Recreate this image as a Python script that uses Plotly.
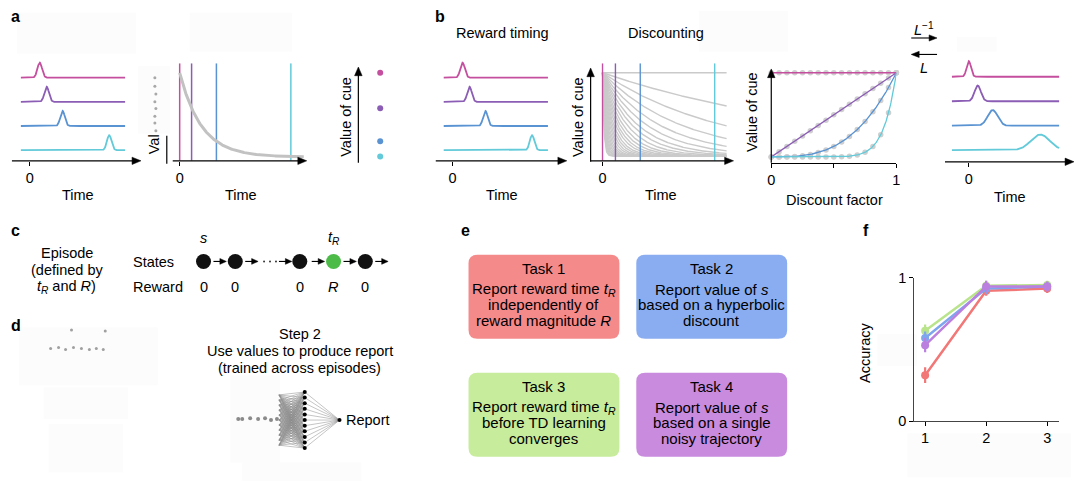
import numpy as np
import plotly.graph_objects as go

W, H = 1080, 489
FONT = 'Liberation Sans, Arial, Helvetica, sans-serif'
FS = 14.5   # main text size

# ---------------- data ----------------
cue_colors = ['#c54f9f', '#8c5db4', '#5a93d2', '#62cad9']   # magenta, purple, blue, cyan

# panels a/b: reward-timing traces (time of reward after the cue)
timing_peaks = [10, 17, 33, 80]
timing_width = 2.3
timing_span = [-9, 96]

# panel a: single exponential discount
a_cue_times = [0, 12, 37, 112]
a_decay_tau = 22
a_decay_span = [0, 125]

# panel b: family of exponential discounts (time constants, None = no discount)
b_cue_times = [1, 14, 39, 114]
b_taus = [None, 245, 123, 80, 58, 45, 36, 30, 25, 21, 18, 15.5, 13.5, 11.5, 10,
          8.6, 7.4, 6.3, 5.4, 4.6, 3.9, 3.3, 2.8, 2.4, 2.0, 1.7, 1.4]
b_decay_span = [1, 126]

# panel b: value of cue vs discount factor (exponent = reward delay)
discount_exponents = [0, 1, 3, 10]

# panel b: recovered reward timing after inverse Laplace transform
recovered_peaks = [0, 9, 24, 72]
recovered_widths = [2.2, 3.2, 5.0, 9.5]
recovered_span = [-17, 91]

# panel e: tasks
task_titles = ['Task 1', 'Task 2', 'Task 3', 'Task 4']
task_lines = [
    ['Report reward time <i>t</i><sub><i>R</i></sub>', 'independently of', 'reward magnitude <i>R</i>'],
    ['Report value of <i>s</i>', 'based on a hyperbolic', 'discount'],
    ['Report reward time <i>t</i><sub><i>R</i></sub>', 'before TD learning', 'converges'],
    ['Report value of <i>s</i>', 'based on a single', 'noisy trajectory'],
]
task_box_colors = ['#f58a8b', '#8aadf1', '#c7ec9c', '#c98bde']
task_line_colors = ['#f27777', '#7ea6ee', '#b9e48c', '#bb7fe0']

# panel f: accuracy
f_x = [1, 2, 3]
acc_task1 = [0.32, 0.91, 0.925]
acc_task2 = [0.58, 0.925, 0.94]
acc_task3 = [0.63, 0.945, 0.95]
acc_task4 = [0.53, 0.94, 0.94]
err_task1 = [0.055, 0.035, 0.03]
err_task2 = [0.045, 0.04, 0.03]
err_task3 = [0.045, 0.035, 0.03]
err_task4 = [0.05, 0.04, 0.035]

# panel c
state_labels_reward = ['0', '0', '0', '<i>R</i>', '0']
state_colors = ['#111111', '#111111', '#111111', '#4dbb48', '#111111']

# panel d network
n_hidden = 11

# ---------------- helpers ----------------
fig = go.Figure()
layout = dict(width=W, height=H, margin=dict(l=0, r=0, t=0, b=0),
              paper_bgcolor='white', plot_bgcolor='rgba(0,0,0,0)', showlegend=False,
              font=dict(family=FONT, size=FS, color='black'))


def ax_name(i, kind):
    return kind + ('axis' if i == 1 else f'axis{i}')


def ref(i, kind):
    return kind if i == 1 else f'{kind}{i}'


def add_axis(i, x0, x1, y0, y1, xr, yr, xa=None, ya=None):
    xd = dict(domain=[x0 / W, x1 / W], range=xr, visible=False, fixedrange=True,
              showgrid=False, zeroline=False, anchor=ref(i, 'y'))
    yd = dict(domain=[1 - y1 / H, 1 - y0 / H], range=yr, visible=False, fixedrange=True,
              showgrid=False, zeroline=False, anchor=ref(i, 'x'))
    if xa:
        xd.update(xa)
    if ya:
        yd.update(ya)
    layout[ax_name(i, 'x')] = xd
    layout[ax_name(i, 'y')] = yd


tick_x = dict(visible=True, showline=False, ticks='outside', ticklen=4, tickwidth=1,
              tickcolor='black', tickfont=dict(size=FS, family=FONT, color='black'))

# overlay axis in pixel space for schematic elements
add_axis(1, 0, W, 0, H, [0, W], [H, 0])
# a1 reward timing
add_axis(2, 8, 138, 45, 158, [-18, 112], [-0.44, 4.08], xa=dict(tick_x, tickvals=[0], ticktext=['0']))
# a2 discount
add_axis(3, 164, 305, 57, 158, [-13, 128], [-0.046, 1.115], xa=dict(tick_x, tickvals=[0], ticktext=['0']))
# a3 value dots
add_axis(4, 350, 400, 57, 158, [0, 1], [-0.046, 1.115])
# b1 reward timing
add_axis(5, 435, 567, 45, 158, [-17, 115], [-0.44, 4.08], xa=dict(tick_x, tickvals=[0], ticktext=['0']))
# b2 discounting
add_axis(6, 591, 735, 57, 158, [-11, 133], [-0.058, 1.116], xa=dict(tick_x, tickvals=[1], ticktext=['0']))
# b3 discount factor
add_axis(7, 773, 899, 60, 160, [0, 1], [-0.069, 1.08],
         xa=dict(tick_x, showline=True, linecolor='black', linewidth=1,
                 tickvals=[0, 0.5, 1], ticktext=['0', '', '1']))
# b5 recovered timing
add_axis(8, 948, 1078, 45, 159, [-24, 106], [-0.474, 4.03], xa=dict(tick_x, tickvals=[0], ticktext=['0']))
# f accuracy
add_axis(9, 917, 1063, 279, 427, [0.821, 3.195], [0, 1],
         xa=dict(tick_x, showline=True, linecolor='#444', linewidth=1, tickvals=f_x,
                 ticktext=[str(v) for v in f_x]),
         ya=dict(tick_x, showline=True, linecolor='#444', linewidth=1, tickvals=[0, 1],
                 ticktext=['0', '1']))

annotations = []
shapes = []


def txt(x, y, s, size=FS, anchor='center', angle=0, bold=False, color='black'):
    if bold:
        s = f'<b>{s}</b>'
    annotations.append(dict(x=x, y=y, xref='x', yref='y', text=s, showarrow=False,
                            font=dict(size=size, family=FONT, color=color),
                            xanchor=anchor, yanchor='middle', textangle=angle))


def line(x0, y0, x1, y1, color='black', width=1):
    shapes.append(dict(type='line', xref='x', yref='y', x0=x0, y0=y0, x1=x1, y1=y1,
                       line=dict(color=color, width=width)))


def arrow(x0, y0, x1, y1, width=1.2, length=9, half=3.8):
    """line with a filled triangular head whose tip is at (x1, y1)"""
    if y0 == y1:
        d = 1 if x1 > x0 else -1
        bx = x1 - d * length
        line(x0, y0, bx + d * 1, y1, width=width)
        path = f'M {x1},{y1} L {bx},{y1 - half} L {bx},{y1 + half} Z'
    else:
        d = 1 if y1 > y0 else -1
        by = y1 - d * length
        line(x0, y0, x1, by + d * 1, width=width)
        path = f'M {x1},{y1} L {x1 - half},{by} L {x1 + half},{by} Z'
    shapes.append(dict(type='path', xref='x', yref='y', path=path, fillcolor='black',
                       line=dict(width=0.5, color='black')))


def rect(x0, y0, x1, y1, color):
    shapes.append(dict(type='rect', xref='x', yref='y', x0=x0, y0=y0, x1=x1, y1=y1,
                       line=dict(width=0), fillcolor=color, layer='below'))


def gauss_traces(axi, peaks, widths, span, height=0.62):
    t = np.linspace(span[0], span[1], 400)
    for k, (p, w) in enumerate(zip(peaks, widths)):
        lane = 3 - k
        y = lane + height * np.exp(-(t - p) ** 2 / (2 * w ** 2))
        fig.add_trace(go.Scatter(x=t, y=y, mode='lines', line=dict(color=cue_colors[k], width=1.8),
                                 xaxis=ref(axi, 'x'), yaxis=ref(axi, 'y'), hoverinfo='skip'))


# faint redaction patches
for (x0, y0, x1, y1) in [(13, 5, 133, 47), (187, 5, 290, 45), (135, 60, 167, 130),
                         (700, 3, 790, 45), (960, 30, 1000, 45), (15, 330, 155, 390),
                         (40, 392, 125, 425), (45, 430, 120, 480), (228, 380, 278, 470),
                         (240, 470, 360, 489), (880, 337, 920, 370), (910, 440, 1075, 485)]:
    rect(x0, y0, x1, y1, '#fcfcfc')

# ---------------- panel a ----------------
txt(5, 9, 'a', size=16, anchor='left', bold=True)
gauss_traces(2, timing_peaks, [timing_width] * 4, timing_span)
arrow(8, 158, 138, 158)
txt(75, 193, 'Time')

# a2
for k, tc in enumerate(a_cue_times):
    fig.add_trace(go.Scatter(x=[tc, tc], y=[-0.046, 1.115], mode='lines',
                             line=dict(color=cue_colors[k], width=1.5),
                             xaxis='x3', yaxis='y3', hoverinfo='skip'))
ta = np.linspace(a_decay_span[0], a_decay_span[1], 300)
fig.add_trace(go.Scatter(x=ta, y=np.exp(-ta / a_decay_tau), mode='lines',
                         line=dict(color='#c2c2c2', width=3), xaxis='x3', yaxis='y3',
                         hoverinfo='skip'))
arrow(170, 158, 305, 158)
line(164, 132, 164, 161, width=1.2)
txt(152, 141, 'Val', angle=-90)
fig.add_trace(go.Scatter(x=[152, 152, 153, 152, 153, 152, 152, 153],
                         y=[72, 81, 89, 97, 104, 112, 119, 127], mode='markers',
                         marker=dict(color='#a8a8a8', size=3), xaxis='x', yaxis='y', hoverinfo='skip'))
txt(239, 193, 'Time')

# a3
a_values = [float(np.exp(-tc / a_decay_tau)) for tc in a_cue_times]
fig.add_trace(go.Scatter(x=[0.58] * 4, y=a_values, mode='markers',
                         marker=dict(color=cue_colors, size=6), xaxis='x4', yaxis='y4',
                         hoverinfo='skip', cliponaxis=False))
arrow(357, 160, 357, 61)
txt(345, 112, 'Value of cue', angle=-90)

# ---------------- panel b ----------------
txt(432, 9, 'b', size=16, anchor='left', bold=True)
txt(502, 26, 'Reward timing')
txt(667, 26, 'Discounting')
gauss_traces(5, timing_peaks, [timing_width] * 4, timing_span)
arrow(435, 158, 567, 158)
txt(502, 193, 'Time')

tb = np.linspace(b_decay_span[0], b_decay_span[1], 400)
for tau in b_taus:
    yv = np.ones_like(tb) if tau is None else np.exp(-(tb - b_decay_span[0]) / tau)
    fig.add_trace(go.Scatter(x=tb, y=yv, mode='lines', line=dict(color='#cacaca', width=1.4),
                             xaxis='x6', yaxis='y6', hoverinfo='skip'))
for k, tc in enumerate(b_cue_times):
    fig.add_trace(go.Scatter(x=[tc, tc], y=[-0.058, 1.116], mode='lines',
                             line=dict(color=cue_colors[k], width=1.4),
                             xaxis='x6', yaxis='y6', hoverinfo='skip'))
arrow(591, 158, 735, 158)
arrow(591, 159, 591, 62)
txt(579, 113, 'Value of cue', angle=-90)
txt(662, 193, 'Time')

# b3
g_dense = np.linspace(0, 1, 300)
g_dots = np.linspace(0, 1, 17)
for k, e in enumerate(discount_exponents):
    fig.add_trace(go.Scatter(x=g_dots, y=g_dots ** e, mode='markers',
                             marker=dict(color='#cfcfcf', size=5.5), xaxis='x7', yaxis='y7',
                             hoverinfo='skip', cliponaxis=False))
for k, e in enumerate(discount_exponents):
    fig.add_trace(go.Scatter(x=g_dense, y=g_dense ** e, mode='lines',
                             line=dict(color=cue_colors[k], width=1.3), xaxis='x7', yaxis='y7',
                             hoverinfo='skip', cliponaxis=False))
arrow(773, 160, 773, 63)
txt(753, 107, 'Value of cue', angle=-90)
txt(837, 198, 'Discount factor')

# L arrows
txt(927, 22, '<i>L</i><sup>\u22121</sup>', size=FS)
arrow(914, 31, 940, 31, width=1.1, length=8, half=3.2)
arrow(940, 48, 914, 48, width=1.1, length=8, half=3.2)
txt(927, 62, '<i>L</i>', size=FS)

# b5
gauss_traces(8, recovered_peaks, recovered_widths, recovered_span, height=0.64)
arrow(948, 159, 1078, 159)
txt(1013, 195, 'Time')

# ---------------- panel c ----------------
txt(5, 230, 'c', size=16, anchor='left', bold=True)
txt(63, 253, 'Episode')
txt(63, 271, '(defined by')
txt(63, 288, '<i>t</i><sub><i>R</i></sub> and <i>R</i>)')
txt(128, 263, 'States', anchor='left')
txt(128, 288, 'Reward', anchor='left')
state_x = [201, 233, 298, 332, 364]
fig.add_trace(go.Scatter(x=state_x, y=[262] * 5, mode='markers',
                         marker=dict(color=state_colors, size=15, line=dict(width=0)),
                         xaxis='x', yaxis='y', hoverinfo='skip'))
for sx, lab in zip(state_x, state_labels_reward):
    txt(sx, 288, lab)
txt(201, 238, '<i>s</i>')
txt(332, 238, '<i>t</i><sub><i>R</i></sub>')
for (x0, x1) in [(211, 224), (243, 256), (277, 290), (310, 323), (342, 355), (374, 387)]:
    arrow(x0, 262, x1, 262, width=1.1, length=6.5, half=3.0)
fig.add_trace(go.Scatter(x=[262, 268, 274], y=[262] * 3, mode='markers',
                         marker=dict(color='#333', size=2), xaxis='x', yaxis='y', hoverinfo='skip'))

# ---------------- panel d ----------------
txt(5, 328, 'd', size=16, anchor='left', bold=True)
txt(298, 337, 'Step 2')
txt(298, 355, 'Use values to produce report')
txt(298, 372, '(trained across episodes)')
hid_y = np.linspace(397, 455, n_hidden)
in_y = np.linspace(400, 452, n_hidden)
lx, ly = [], []
for yi in in_y:
    for yh in hid_y:
        lx += [277, 303, None]
        ly += [yi, yh, None]
for yh in hid_y:
    lx += [303, 338, None]
    ly += [yh, 426, None]
fig.add_trace(go.Scatter(x=lx, y=ly, mode='lines', line=dict(color='#8a8a8a', width=0.5),
                         xaxis='x', yaxis='y', hoverinfo='skip'))
fig.add_trace(go.Scatter(x=[303] * n_hidden + [338], y=list(hid_y) + [426], mode='markers',
                         marker=dict(color='black', size=4), xaxis='x', yaxis='y', hoverinfo='skip'))
txt(343, 426, 'Report', anchor='left')
fig.add_trace(go.Scatter(x=[236, 240, 248, 256, 263, 269, 275],
                         y=[425, 425, 424, 425, 424, 426, 425], mode='markers',
                         marker=dict(color='#8a8a8a', size=4), xaxis='x', yaxis='y', hoverinfo='skip'))
fig.add_trace(go.Scatter(x=[47, 55, 62, 70, 78, 86, 93, 100, 68, 102],
                         y=[352, 351, 353, 351, 352, 353, 352, 353, 333, 334], mode='markers',
                         marker=dict(color='#a0a0a0', size=3), xaxis='x', yaxis='y', hoverinfo='skip'))

# ---------------- panel e ----------------
txt(458, 230, 'e', size=16, anchor='left', bold=True)
boxes = [(468, 255, 620, 342), (637, 255, 789, 342), (468, 377, 620, 464), (637, 377, 789, 464)]


def rounded(x0, y0, x1, y1, r):
    return (f'M {x0 + r},{y0} L {x1 - r},{y0} Q {x1},{y0} {x1},{y0 + r} L {x1},{y1 - r} '
            f'Q {x1},{y1} {x1 - r},{y1} L {x0 + r},{y1} Q {x0},{y1} {x0},{y1 - r} '
            f'L {x0},{y0 + r} Q {x0},{y0} {x0 + r},{y0} Z')


for (x0, y0, x1, y1), col, title, lines in zip(boxes, task_box_colors, task_titles, task_lines):
    shapes.append(dict(type='path', xref='x', yref='y', path=rounded(x0, y0, x1, y1, 9),
                       fillcolor=col, line=dict(width=0), layer='below'))
    cx = (x0 + x1) / 2
    txt(cx, y0 + 14, title, size=15)
    for j, s in enumerate(lines):
        txt(cx, y0 + 36 + 16 * j, s, size=15)

# ---------------- panel f ----------------
txt(863, 230, 'f', size=16, anchor='left', bold=True)
for acc, err, col in [(acc_task1, err_task1, task_line_colors[0]),
                      (acc_task3, err_task3, task_line_colors[2]),
                      (acc_task2, err_task2, task_line_colors[1]),
                      (acc_task4, err_task4, task_line_colors[3])]:
    fig.add_trace(go.Scatter(x=f_x, y=acc, mode='lines+markers',
                             line=dict(color=col, width=2.5), marker=dict(color=col, size=8),
                             error_y=dict(type='data', array=err, color=col, thickness=2.2, width=0),
                             xaxis='x9', yaxis='y9', hoverinfo='skip', cliponaxis=False))
txt(868, 357, 'Accuracy', angle=-90)

layout['annotations'] = annotations
layout['shapes'] = shapes
fig.update_layout(**layout)
fig.write_html("out.html", config={'displayModeBar': False},
               post_script="document.body.style.margin='0px';")
